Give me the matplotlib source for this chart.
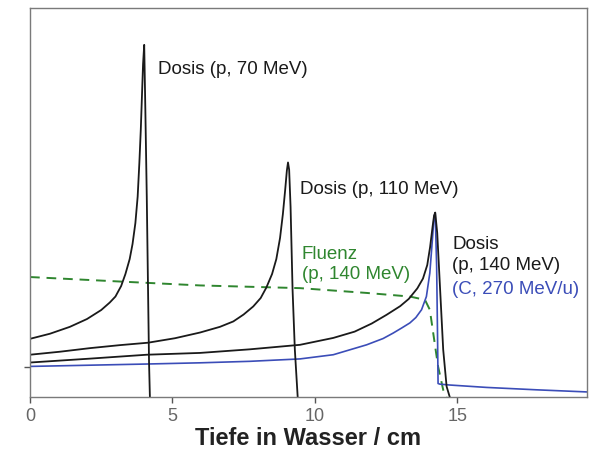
import numpy as np
import matplotlib
matplotlib.use('Agg')
import matplotlib.pyplot as plt

plt.rcParams['font.family'] = ['Liberation Sans', 'DejaVu Sans']

# depth (cm) and relative dose
#Dosis p, 70 MeV
x_p70 = [0, 0.70, 1.40, 2.00, 2.50, 2.80, 3.00, 3.20, 3.35, 3.50, 3.60, 3.70, 3.78, 3.84, 3.89, 3.93, 3.97, 4.01,
         4.05, 4.10, 4.14, 4.18, 4.21]
y_p70 = [1.94, 2.11, 2.34, 2.60, 2.90, 3.15, 3.35, 3.70, 4.10, 4.60, 5.10, 5.80, 6.68, 7.81, 8.91, 10.01, 11.10, 11.74,
         9.58, 6.68, 3.91, 1.14, 0.0]

#Dosis p, 110 MeV
x_p110 = [0, 1.05, 2.11, 3.16, 4.14, 5.09, 5.97, 6.67, 7.14, 7.50, 7.84, 8.10, 8.30, 8.50, 8.65, 8.78, 8.88, 8.96,
          9.02, 9.06, 9.10, 9.15, 9.22, 9.30, 9.40]
y_p110 = [1.41, 1.51, 1.63, 1.73, 1.81, 1.96, 2.15, 2.34, 2.52, 2.75, 3.02, 3.30, 3.65, 4.10, 4.60, 5.30, 6.10, 6.90,
          7.55, 7.82, 7.58, 6.34, 3.58, 1.58, 0.0]

#Dosis p, 140 MeV
x_p140 = [0, 2.11, 4.10, 5.97, 7.72, 9.48, 10.65, 11.40, 12.00, 12.52, 13.00, 13.30, 13.60, 13.80, 13.95, 14.05, 14.14,
          14.19, 14.23, 14.30, 14.39, 14.51, 14.63, 14.74]
y_p140 = [1.15, 1.28, 1.41, 1.47, 1.59, 1.74, 1.97, 2.18, 2.45, 2.74, 3.03, 3.27, 3.62, 3.95, 4.40, 5.00, 5.70,
          6.05, 6.15, 5.47, 3.80, 1.58, 0.35, 0.0]

#Dosis C, 270 MeV/u
x_c270 = [0, 4.10, 5.97, 7.72, 9.48, 10.65, 11.82, 12.40, 12.75, 13.05, 13.34, 13.55, 13.75, 13.92, 14.04, 14.13, 14.19,
          14.23, 14.28, 14.31, 14.33, 14.39, 14.74, 16.03, 17.79, 19.54]
y_c270 = [1.02, 1.10, 1.14, 1.19, 1.27, 1.41, 1.74, 1.95, 2.13, 2.30, 2.47, 2.65, 2.91, 3.35, 4.13, 5.24, 6.02,
          6.13, 4.35, 2.13, 0.45, 0.43, 0.40, 0.32, 0.24, 0.17]

#Fluenz p, 140 MeV
x_flu = [0, 3.16, 5.97, 9.48, 11.82, 13.34, 13.87, 14.04, 14.16, 14.33, 14.51, 14.63]
y_flu = [4.00, 3.85, 3.72, 3.63, 3.47, 3.35, 3.24, 2.91, 2.13, 1.02, 0.24, 0.0]

x_ticks = [0, 5, 10, 15]

black = '#1a1a1a'
blue = '#3b4db8'
green = '#2f862f'
grey = '#7a7a7a'

fig = plt.figure(figsize=(5.98, 4.51), dpi=100)
ax = fig.add_axes([0.0502, 0.1197, 0.9314, 0.8626])

ax.plot(x_flu, y_flu, color=green, lw=1.4, dashes=(5, 3.5))
ax.plot(x_c270, y_c270, color=blue, lw=1.2, solid_joinstyle='round')
ax.plot(x_p140, y_p140, color=black, lw=1.3, solid_joinstyle='round')
ax.plot(x_p110, y_p110, color=black, lw=1.3, solid_joinstyle='round')
ax.plot(x_p70, y_p70, color=black, lw=1.3, solid_joinstyle='round')

ax.set_xlim(0, 19.56)
ax.set_ylim(0, 12.97)
ax.set_xticks(x_ticks)
ax.set_yticks([1])
ax.set_yticklabels([''])
ax.tick_params(axis='both', direction='out', length=4, width=1, color='#555555',
               labelsize=13, labelcolor='#666666', pad=4)
for s in ax.spines.values():
    s.set_color(grey)
    s.set_linewidth(1.0)

ax.set_xlabel('Tiefe in Wasser / cm', fontsize=17, fontweight='bold', color='#222222', labelpad=1)

fs = 13.5
ax.text(4.49, 10.93, 'Dosis (p, 70 MeV)', fontsize=fs, color=black, va='center')
ax.text(9.48, 6.93, 'Dosis (p, 110 MeV)', fontsize=fs, color=black, va='center')
ax.text(9.55, 4.76, 'Fluenz', fontsize=fs, color=green, va='center')
ax.text(9.55, 4.10, '(p, 140 MeV)', fontsize=fs, color=green, va='center')
ax.text(14.82, 5.09, 'Dosis', fontsize=fs, color=black, va='center')
ax.text(14.82, 4.37, '(p, 140 MeV)', fontsize=fs, color=black, va='center')
ax.text(14.82, 3.60, '(C, 270 MeV/u)', fontsize=fs, color=blue, va='center')

fig.savefig('out.png', dpi=100)
